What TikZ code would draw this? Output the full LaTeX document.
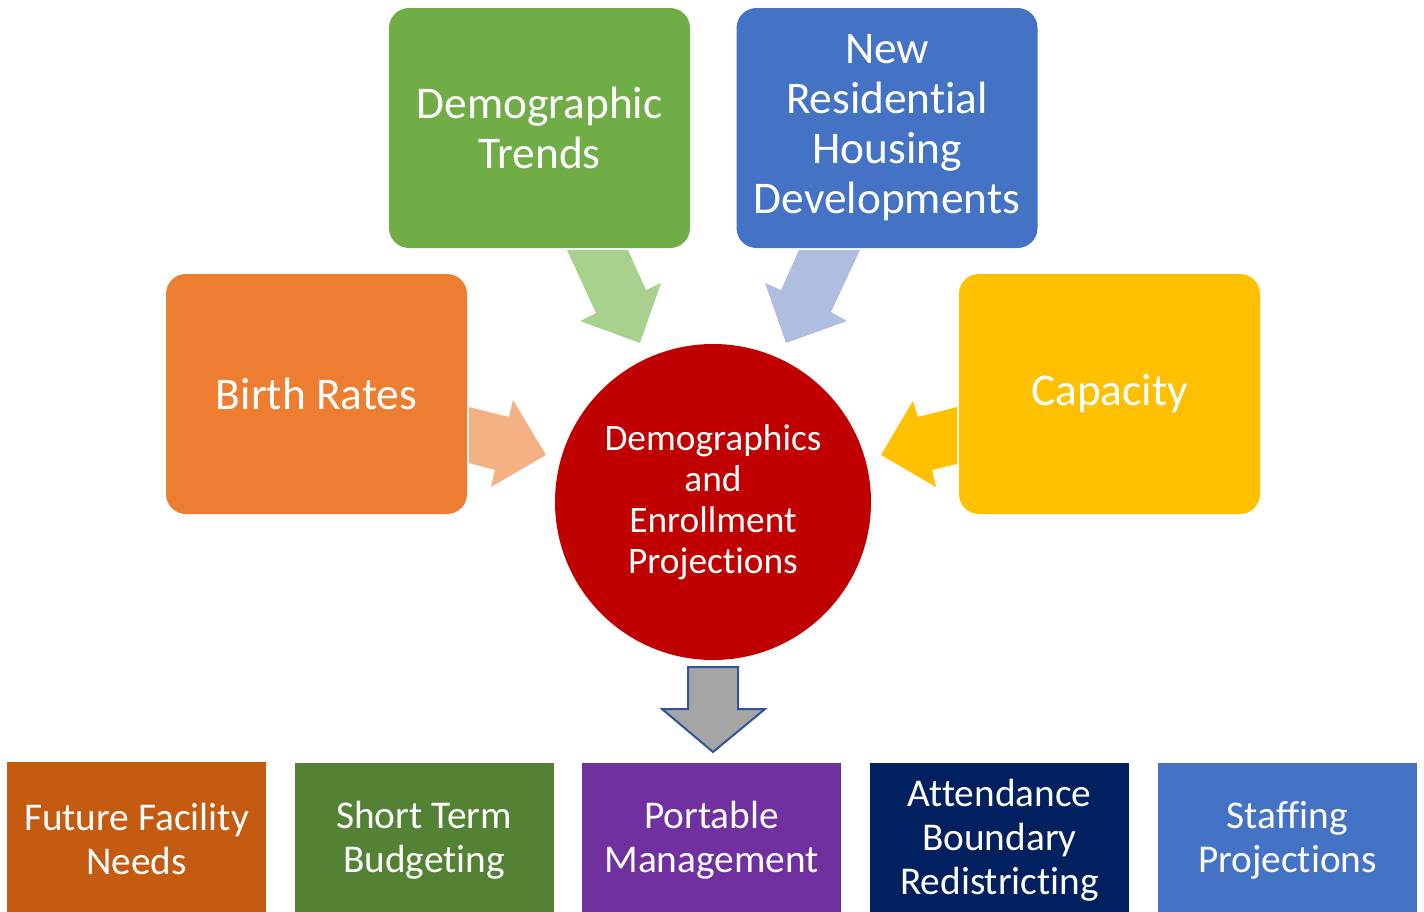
\documentclass[tikz,border=0pt]{standalone}
\usepackage{fontspec}
\setmainfont{Carlito}[Ligatures={NoCommon}]
\usepackage{tikz}

\definecolor{trendgreen}{HTML}{70AD47}
\definecolor{housingblue}{HTML}{4472C4}
\definecolor{birthorange}{HTML}{ED7D31}
\definecolor{capyellow}{HTML}{FFC000}
\definecolor{projred}{HTML}{C00000}
\definecolor{arrgreen}{HTML}{A9D18E}
\definecolor{arrblue}{HTML}{AFBDE0}
\definecolor{arrorange}{HTML}{F4B183}
\definecolor{facilityorange}{HTML}{C55A11}
\definecolor{budgetgreen}{HTML}{548235}
\definecolor{portablepurple}{HTML}{7030A0}
\definecolor{boundarynavy}{HTML}{002060}
\definecolor{downgray}{HTML}{A5A5A5}
\definecolor{downedge}{HTML}{2F5597}

\begin{document}
\begin{tikzpicture}[x=0.75pt,y=0.75pt,yscale=-1,xscale=1,
  topbox/.style={rounded corners=15pt, minimum width=225.75pt, minimum height=180pt, inner sep=0pt, text=white, align=center, font=\fontsize{34}{37.5}\selectfont},
  lowbox/.style={minimum width=194.25pt, minimum height=115.5pt, inner sep=0pt, text=white, align=center, font=\fontsize{29.5}{33}\selectfont}]
\useasboundingbox (0,0) rectangle (1424,911);

%Shape: Rounded Rectangle [id:trends]
\node [topbox, fill=trendgreen] (trends) at (539.5,128) {Demographic\\Trends};
%Shape: Rounded Rectangle [id:housing]
\node [topbox, fill=housingblue] (housing) at (887,128) {New\\Residential\\Housing\\Developments};
%Shape: Rounded Rectangle [id:birth]
\node [topbox, fill=birthorange] (birth) at (316.5,394) {Birth Rates};
%Shape: Rounded Rectangle [id:capacity]
\node [topbox, fill=capyellow] (capacity) at (1109.5,394) {Capacity};

%Shape: Circle [id:proj]
\node [circle, fill=projred, minimum size=237pt, inner sep=0pt, text=white, align=center, font=\fontsize{28}{30.75}\selectfont] (proj) at (713,502) {Demographics\\and\\Enrollment\\Projections};

%Shape: Right Arrow [id:arrtrends]
\fill [arrgreen] (567,250) -- (628,250) -- (646,290) -- (661,283) -- (640,343) -- (580,321) -- (596,313) -- cycle ;
%Shape: Right Arrow [id:arrhousing]
\fill [arrblue] (860,250) -- (799,250) -- (781,290) -- (765,283) -- (786,343) -- (847,321) -- (831,312) -- cycle ;
%Shape: Right Arrow [id:arrbirth]
\fill [arrorange] (469,407) -- (509,417) -- (513,400) -- (546,455) -- (491,487) -- (495,470) -- (469,463) -- cycle ;
%Shape: Right Arrow [id:arrcapacity]
\fill [capyellow] (957,407) -- (918,417) -- (913,401) -- (881,455) -- (936,487) -- (932,470) -- (957,464) -- cycle ;
%Shape: Down Arrow [id:arrdown]
\draw [downedge, fill=downgray, line width=1.5pt, line join=miter] (688,667) -- (738,667) -- (738,709) -- (765,709) -- (713,752) -- (662,709) -- (688,709) -- cycle ;

% Bottom Boxes
\node [lowbox, fill=facilityorange] (facility) at (136.5,839) {Future Facility\\Needs};
\node [lowbox, fill=budgetgreen] (budget) at (424,840) {Short Term\\Budgeting};
\node [lowbox, fill=portablepurple] (portable) at (711.5,840) {Portable\\Management};
\node [lowbox, fill=boundarynavy] (boundary) at (999.5,840) {Attendance\\Boundary\\Redistricting};
\node [lowbox, fill=housingblue] (staffing) at (1287.5,840) {Staffing\\Projections};

\end{tikzpicture}
\end{document}
